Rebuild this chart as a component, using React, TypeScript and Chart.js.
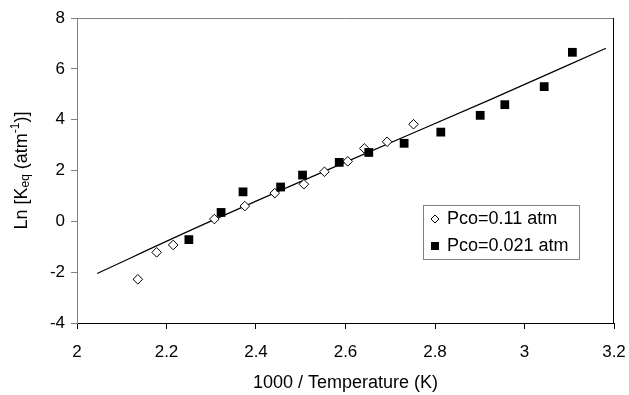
import { useEffect, useRef } from "react";
import { Chart, registerables } from "chart.js";

Chart.register(...registerables);

// Pco = 0.11 atm (open diamonds)
const pco011X = [2.136, 2.178, 2.215, 2.307, 2.375, 2.442, 2.507, 2.553, 2.605, 2.642, 2.693, 2.752];
const pco011Y = [-2.28, -1.22, -0.93, 0.09, 0.6, 1.11, 1.46, 1.95, 2.36, 2.87, 3.13, 3.82];

// Pco = 0.021 atm (filled squares)
const pco0021X = [2.25, 2.322, 2.371, 2.455, 2.504, 2.586, 2.652, 2.731, 2.813, 2.901, 2.956, 3.044, 3.107];
const pco0021Y = [-0.72, 0.35, 1.16, 1.35, 1.82, 2.32, 2.71, 3.07, 3.51, 4.17, 4.59, 5.3, 6.65];

// fitted line
const fitX = [2.045, 2.273, 2.6, 2.921, 3.182];
const fitY = [-2.05, -0.2, 2.33, 4.77, 6.81];

const seriesLabels = ["Pco=0.11 atm", "Pco=0.021 atm"];
const xAxisTitle = "1000 / Temperature (K)";
const yTitleParts = ["Ln [K", "eq", " (atm", "-1", ")]"];
const xRange = [2, 3.2, 0.2];
const yRange = [-4, 8, 2];

const FONT = '"Liberation Sans", Arial, Helvetica, sans-serif';

const framePlugin = {
  id: "frame",
  beforeDatasetsDraw(chart: any) {
    const { ctx, chartArea } = chart;
    ctx.save();
    ctx.lineWidth = 1;
    ctx.strokeStyle = "#808080";
    ctx.beginPath();
    const t = Math.round(chartArea.top) + 0.5;
    ctx.moveTo(chartArea.left, t);
    ctx.lineTo(chartArea.right, t);
    ctx.stroke();
    ctx.strokeStyle = "#000";
    ctx.beginPath();
    const r = Math.round(chartArea.right) - 0.5;
    ctx.moveTo(r, chartArea.top);
    ctx.lineTo(r, chartArea.bottom);
    ctx.stroke();
    ctx.restore();
  },
};

const legendPlugin = {
  id: "boxLegend",
  afterDraw(chart: any) {
    const { ctx } = chart;
    ctx.save();
    const bx = 423.5, by = 205.5, bw = 156, bh = 54;
    ctx.fillStyle = "#fff";
    ctx.fillRect(bx, by, bw, bh);
    ctx.strokeStyle = "#808080";
    ctx.lineWidth = 1;
    ctx.strokeRect(bx, by, bw, bh);
    ctx.font = `18px ${FONT}`;
    ctx.textBaseline = "middle";
    ctx.textAlign = "left";
    ctx.fillStyle = "#000";
    const y1 = 219, y2 = 246, mx = 435;
    ctx.beginPath();
    ctx.moveTo(mx - 4, y1);
    ctx.lineTo(mx, y1 - 4);
    ctx.lineTo(mx + 4, y1);
    ctx.lineTo(mx, y1 + 4);
    ctx.closePath();
    ctx.fillStyle = "#fff";
    ctx.fill();
    ctx.strokeStyle = "#000";
    ctx.stroke();
    ctx.fillStyle = "#000";
    ctx.fillText(chart.data.datasets[1].label, 447, y1);
    ctx.fillRect(mx - 4, y2 - 4, 8, 8);
    ctx.fillText(chart.data.datasets[2].label, 447, y2);
    ctx.restore();
  },
};

const yTitlePlugin = {
  id: "yTitle",
  afterDraw(chart: any) {
    const { ctx, chartArea } = chart;
    const cy = (chartArea.top + chartArea.bottom) / 2;
    const cx = 22;
    const big = `18px ${FONT}`;
    const small = `12px ${FONT}`;
    const fonts = [big, small, big, small, big];
    const offs = [0, 4, 0, -6, 0];
    ctx.save();
    let total = 0;
    const widths = yTitleParts.map((p, i) => {
      ctx.font = fonts[i];
      const w = ctx.measureText(p).width;
      total += w;
      return w;
    });
    ctx.translate(cx, cy);
    ctx.rotate(-Math.PI / 2);
    ctx.fillStyle = "#000";
    ctx.textBaseline = "middle";
    ctx.textAlign = "left";
    let x = -total / 2;
    yTitleParts.forEach((p, i) => {
      ctx.font = fonts[i];
      ctx.fillText(p, x, offs[i]);
      x += widths[i];
    });
    ctx.restore();
  },
};

export default function App() {
  const ref = useRef<HTMLCanvasElement>(null);
  useEffect(() => {
    const canvas = ref.current!;
    const chart = new Chart(canvas, {
      type: "scatter",
      data: {
        datasets: [
          {
            label: "fit",
            data: fitX.map((x, i) => ({ x, y: fitY[i] })),
            showLine: true,
            borderColor: "#000",
            borderWidth: 1.2,
            pointRadius: 0,
            fill: false,
            cubicInterpolationMode: "monotone",
            order: 3,
          } as any,
          {
            label: seriesLabels[0],
            data: pco011X.map((x, i) => ({ x, y: pco011Y[i] })),
            pointStyle: "rectRot",
            pointRadius: 4.8,
            backgroundColor: "#fff",
            borderColor: "#000",
            borderWidth: 1,
            order: 2,
          },
          {
            label: seriesLabels[1],
            data: pco0021X.map((x, i) => ({ x, y: pco0021Y[i] })),
            pointStyle: "rect",
            pointRadius: 6.2,
            backgroundColor: "#000",
            borderColor: "#000",
            borderWidth: 0,
            order: 1,
          },
        ],
      },
      options: {
        animation: false,
        responsive: false,
        devicePixelRatio: 1,
        layout: { padding: { top: 18, right: 15, left: 0, bottom: 0 } },
        plugins: { legend: { display: false }, tooltip: { enabled: false } },
        scales: {
          x: {
            type: "linear",
            min: xRange[0],
            max: xRange[1],
            ticks: {
              stepSize: xRange[2],
              color: "#000",
              padding: 13,
              font: { family: FONT, size: 17 },
              callback: (v: any) => String(Math.round(Number(v) * 10) / 10),
            },
            grid: { drawOnChartArea: false, drawTicks: true, tickLength: 6, color: "#000" },
            border: { display: true, color: "#000", width: 1 },
            title: {
              display: true,
              text: xAxisTitle,
              color: "#000",
              font: { family: FONT, size: 18 },
              padding: { top: 0, bottom: 1 },
            },
            afterFit(s: any) {
              s.height = 72;
              s.paddingLeft = 0;
              s.paddingRight = 0;
            },
          },
          y: {
            type: "linear",
            min: yRange[0],
            max: yRange[1],
            ticks: {
              stepSize: yRange[2],
              color: "#000",
              padding: 6,
              font: { family: FONT, size: 17 },
            },
            grid: { drawOnChartArea: false, drawTicks: true, tickLength: 6, color: "#808080" },
            border: { display: true, color: "#808080", width: 1 },
            afterFit(s: any) {
              s.width = 77;
              s.paddingTop = 0;
              s.paddingBottom = 0;
            },
          },
        },
      },
      plugins: [framePlugin, legendPlugin, yTitlePlugin],
    });
    return () => chart.destroy();
  }, []);
  return (
    <div style={{ position: "fixed", left: 0, top: 0, width: 629, height: 395, background: "#fff" }}>
      <canvas ref={ref} width={629} height={395} style={{ display: "block" }} />
    </div>
  );
}
